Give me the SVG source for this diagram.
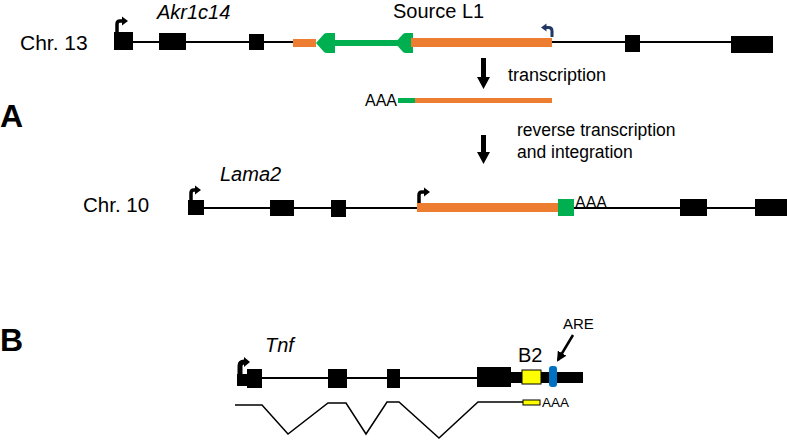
<svg xmlns="http://www.w3.org/2000/svg" width="787" height="440" viewBox="0 0 787 440">
<defs>
<style>
text{font-family:"Liberation Sans",Arial,sans-serif;fill:#000}
.it{font-style:italic}
.ln{stroke:#000;stroke-width:2;fill:none}
.ex{fill:#000}
.or{fill:#ED7D31}
.gr{fill:#00B050}
.prom{stroke:#000;stroke-width:3.5;fill:none}
</style>
<marker id="ah" viewBox="0 0 10 10" refX="8" refY="5" markerWidth="4" markerHeight="4" orient="auto">
<path d="M0,0 L10,5 L0,10 z" fill="#000"/>
</marker>
</defs>
<rect width="787" height="440" fill="#fff"/>

<g id="labels">
<text x="0" y="127" font-size="32" font-weight="bold">A</text>
<text x="0" y="351" font-size="32" font-weight="bold">B</text>
</g>

<g id="chr13">
<text x="20" y="50" font-size="21">Chr. 13</text>
<text x="157" y="19" font-size="20" class="it">Akr1c14</text>
<text x="393" y="18" font-size="20">Source L1</text>
<line class="ln" x1="133" y1="42" x2="293" y2="42"/>
<line class="ln" x1="552" y1="42" x2="731" y2="42"/>
<rect class="ex" x="114" y="32" width="19" height="18"/>
<rect class="ex" x="159" y="33" width="27" height="17"/>
<rect class="ex" x="249" y="34" width="15" height="16"/>
<rect class="ex" x="625" y="35" width="15" height="17"/>
<rect class="ex" x="731" y="36" width="42" height="17"/>
<path class="prom" d="M117,33 V24 Q117,21 120,21 H122"/>
<path d="M122,16.5 L128,21 L122,25.5 z" fill="#000"/>
<rect class="or" x="293" y="39" width="23" height="8"/>
<rect class="gr" x="330" y="40" width="70" height="6"/>
<path class="gr" d="M316,43 L324,34 Q325,33 327,33 L335,33 L335,53 L327,53 Q325,53 324,52 z"/>
<path class="gr" d="M395,43 L403,34 Q404,33 406,33 L413,33 L413,53 L406,53 Q404,53 403,52 z"/>
<rect class="or" x="411" y="38" width="141" height="9"/>
<path d="M552,37 V31 Q552,27.5 548.5,27.5 H546" stroke="#1F3864" stroke-width="3" fill="none"/>
<path d="M546.5,23.5 L541,27.5 L546.5,31.5 z" fill="#1F3864"/>
</g>

<g id="transcription">
<path d="M481,58 H486 V77 H490 L483.5,89 L477,77 H481 z" fill="#000"/>
<text x="508" y="81" font-size="18">transcription</text>
</g>

<g id="mrna">
<text x="365" y="106" font-size="16">AAA</text>
<rect class="gr" x="398" y="98" width="17" height="5"/>
<rect class="or" x="415" y="98" width="137" height="5"/>
</g>

<g id="rt">
<path d="M481,135 H486 V152 H490 L483.5,164 L477,152 H481 z" fill="#000"/>
<text x="517" y="136" font-size="17.5">reverse transcription</text>
<text x="517" y="158" font-size="17.5">and integration</text>
</g>

<g id="chr10">
<text x="83" y="212" font-size="20.5">Chr. 10</text>
<text x="220" y="181" font-size="20" class="it">Lama2</text>
<line class="ln" x1="204" y1="208" x2="755" y2="208"/>
<rect class="ex" x="188" y="200" width="16" height="15"/>
<rect class="ex" x="270" y="200" width="24" height="16"/>
<rect class="ex" x="331" y="200" width="15" height="17"/>
<path class="prom" d="M191,201 V193 Q191,190 194,190 H195"/>
<path d="M195,185.5 L201,190 L195,194.5 z" fill="#000"/>
<rect class="or" x="417" y="203" width="141" height="9"/>
<rect class="gr" x="558" y="199" width="16" height="17"/>
<path class="prom" d="M419,203 V195 Q419,192 422,192 H424"/>
<path d="M424,187.5 L430,192 L424,196.5 z" fill="#000"/>
<text x="575" y="208" font-size="16">AAA</text>
<rect class="ex" x="680" y="199" width="27" height="17"/>
<rect class="ex" x="755" y="199" width="32" height="17"/>
</g>

<g id="tnf">
<text x="265" y="352" font-size="20" class="it">Tnf</text>
<line class="ln" x1="262" y1="378" x2="477" y2="378"/>
<rect class="ex" x="237" y="374" width="12" height="12"/>
<rect class="ex" x="247" y="369" width="15" height="19"/>
<path d="M240,376 V366 Q240,362 244,362 H245" stroke="#000" stroke-width="5" fill="none"/>
<path d="M244,357 L250,362 L244,367 z" fill="#000"/>
<rect class="ex" x="328" y="369" width="19" height="19"/>
<rect class="ex" x="387" y="369" width="13" height="19"/>
<rect class="ex" x="477" y="367" width="34" height="20"/>
<rect class="ex" x="509" y="372" width="74" height="11"/>
<rect x="522" y="370" width="19" height="14" fill="#FFFF00" stroke="#000" stroke-width="1"/>
<rect x="549" y="366" width="8" height="21" rx="3" fill="#0070C0"/>
<text x="518" y="362" font-size="20">B2</text>
<text x="563" y="329" font-size="15">ARE</text>
<line x1="573" y1="335" x2="558" y2="360" stroke="#000" stroke-width="2.5" marker-end="url(#ah)"/>
<polyline fill="none" stroke="#000" stroke-width="1.5" points="235,405 262,405 288,434 328,403 346,403 366,434 387,402 399,402 439,438 478,402 523,402"/>
<rect x="523" y="400" width="17" height="5" fill="#FFFF00" stroke="#000" stroke-width="1"/>
<text x="542" y="407" font-size="13.5">AAA</text>
</g>
</svg>
